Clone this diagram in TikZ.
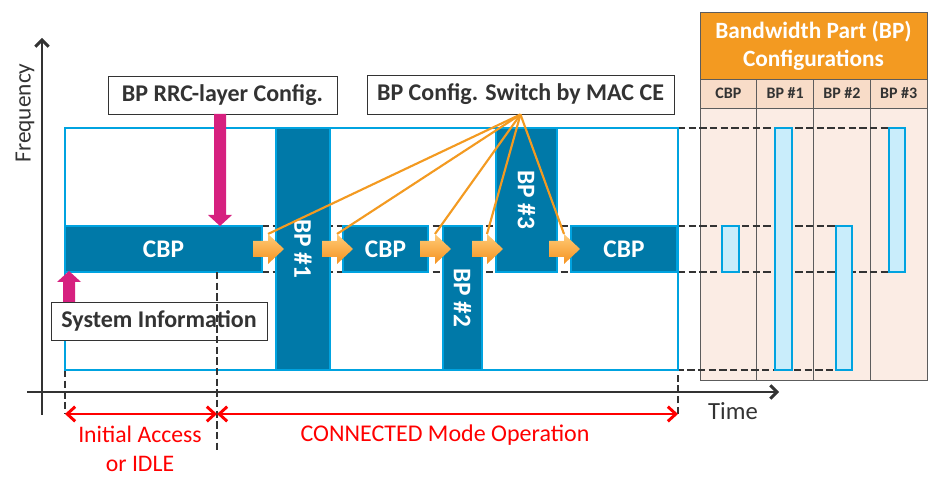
\documentclass[tikz,border=0pt]{standalone}
\usepackage{fontspec}
\setmainfont{Carlito}
\usetikzlibrary{arrows.meta,calc}
\definecolor{bpteal}{HTML}{0079A8}
\definecolor{bpblue}{HTML}{00A3E0}
\definecolor{bpmag}{HTML}{D6207F}
\definecolor{bporange}{HTML}{F39A21}
\definecolor{bppeach}{HTML}{F8DCC8}
\definecolor{bplight}{HTML}{FBECE4}
\definecolor{bpbar}{HTML}{C9EDFB}
\definecolor{bpdark}{HTML}{333333}
\definecolor{bpred}{HTML}{FF0000}
\definecolor{arrtop}{HTML}{FFCB78}
\definecolor{arrbot}{HTML}{F5921E}
\tikzset{
  sz/.style 2 args = {minimum width=#1*0.75pt, minimum height=#2*0.75pt},
  bp_box/.style = {draw=bpblue, fill=bpteal, line width=2.2pt, text=white, inner sep=0pt, font=\fontsize{19}{22}\selectfont\bfseries},
  txt_box/.style = {draw=bpdark, fill=white, line width=0.7pt, text=bpdark, inner sep=0pt, font=\fontsize{18}{21}\selectfont\bfseries},
  cfg_cell/.style = {draw=bpdark!80, line width=0.5pt, inner sep=0pt},
  cfg_bar/.style = {draw=bpblue, fill=bpbar, line width=2pt, inner sep=0pt},
  guide/.style = {draw=bpdark, line width=2.2pt, dash pattern=on 5.5pt off 2.5pt},
  axis/.style = {draw=bpdark, line width=2.2pt, -{Straight Barb[length=5pt,width=10pt]}},
  span/.style = {draw=bpred, line width=2.2pt, {Straight Barb[length=6pt,width=11pt]}-{Straight Barb[length=6pt,width=11pt]}},
  sw_line/.style = {draw=bporange, line width=1.6pt},
  step_arrow/.style = {top color=arrtop, bottom color=arrbot, draw=none}
}
\begin{document}
\begin{tikzpicture}[x=0.75pt, y=-0.75pt]
  \useasboundingbox (0,0) rectangle (939,484);

  % axes
  \coordinate (yo) at (42,415);
  \coordinate (yt) at (42,38);
  \coordinate (xo) at (27,392);
  \coordinate (xt) at (779,392);
  \draw[axis] (yo) -- (yt);
  \draw[axis] (xo) -- (xt);
  \node[rotate=90, text=bpdark, font=\fontsize{17.5}{20}\selectfont] (freq) at (25,113) {Frequency};
  \node[text=bpdark, font=\fontsize{18.5}{21}\selectfont] (time) at (733,411) {Time};

  % configuration table
  \node[cfg_cell, fill=bporange, sz={227}{67}, align=center, text=white,
        font=\fontsize{17.5}{21}\selectfont\bfseries] (cfg) at (813.5,45.5) {Bandwidth Part (BP)\\Configurations};
  \foreach \lab [count=\i] in {CBP, BP \#1, BP \#2, BP \#3}{
    \node[cfg_cell, fill=bppeach, sz={56.75}{29}, text=bpdark,
          font=\fontsize{12}{14}\selectfont\bfseries] (head\i) at ({700+(\i-0.5)*56.75},93.5) {\lab};
    \node[cfg_cell, fill=bplight, sz={56.75}{272}] (col\i) at ({700+(\i-0.5)*56.75},244) {};
  }

  % guide lines
  \draw[guide] (262,226) -- (836,226);
  \draw[guide] (262,272) -- (889,272);
  \draw[guide] (678,128) -- (889,128);
  \draw[guide] (678,414) -- (678,370) -- (836,370);
  \draw[guide] (65,370) -- (65,414);

  % time-frequency grid
  \draw[bpblue, line width=2.2pt] (65,128) rectangle (678,370);
  \node[bp_box, sz={197}{46}] (cbpa) at (163.5,249) {CBP};
  \node[bp_box, sz={54}{242}] (bpa) at (303,249) {\rotatebox{-90}{BP \#1}};
  \node[bp_box, sz={85}{46}] (cbpb) at (385.5,249) {CBP};
  \node[bp_box, sz={39}{144}] (bpb) at (462.5,298) {\rotatebox{-90}{BP \#2}};
  \node[bp_box, sz={61}{144}] (bpc) at (526.5,200) {\rotatebox{-90}{BP \#3}};
  \node[bp_box, sz={106}{46}] (cbpc) at (624,249) {CBP};

  % bars in the table
  \node[cfg_bar, sz={17}{46}] (bara) at (730.5,249) {};
  \node[cfg_bar, sz={17}{242}] (barb) at (783.5,249) {};
  \node[cfg_bar, sz={16}{144}] (barc) at (844,298) {};
  \node[cfg_bar, sz={16}{144}] (bard) at (897,200) {};

  % signalling
  \node[txt_box, sz={229}{38}] (rrc) at (222.5,95) {BP RRC-layer Config.};
  \node[txt_box, sz={216}{38}] (sysinfo) at (159,321) {System Information};
  \node[txt_box, sz={307}{39}] (macce) at (520.5,94.5) {BP Config. Switch by MAC CE};
  \fill[bpmag] (214,114) -- (214,215) -- (208,215) -- (220,226) -- (232,215) -- (226,215) -- (226,114) -- cycle;
  \fill[bpmag] (63,302) -- (63,282) -- (57,282) -- (69,271) -- (81,282) -- (75,282) -- (75,302) -- cycle;

  \foreach \s/\n in {253/a,322/b,420/c,472/d,549/e}{
    \coordinate (sw\n) at (\s+15,234);
    \draw[sw_line] (macce.south) -- (sw\n);
  }
  \foreach \s in {253,322,420,472,549}{
    \path[step_arrow] (\s,241) -- (\s+15,241) -- (\s+15,234) -- (\s+31,249) -- (\s+15,264) -- (\s+15,257) -- (\s,257) -- cycle;
  }
  \draw[guide] (217,272) -- (217,452);

  % modes
  \coordinate (ta) at (65,414);
  \coordinate (tb) at (217,414);
  \coordinate (tc) at (678,414);
  \draw[span] (ta) -- (tb);
  \draw[span] (tb) -- (tc);
  \node[text=bpred, align=center, font=\fontsize{17.8}{21.75}\selectfont] (idle) at (140,449) {Initial Access\\or IDLE};
  \node[text=bpred, font=\fontsize{18}{20}\selectfont] (conn) at (445,435) {CONNECTED Mode Operation};
\end{tikzpicture}
\end{document}
